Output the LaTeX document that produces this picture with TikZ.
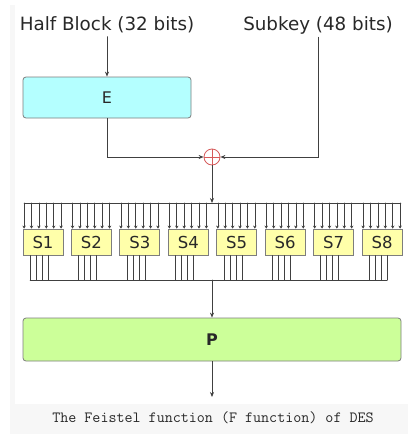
\documentclass[tikz,border=0pt]{standalone}
\usepackage{fontspec}
\setmainfont{DejaVu Sans}
\usetikzlibrary{arrows.meta,calc}
\definecolor{linegray}{RGB}{64,64,64}
\definecolor{textgray}{RGB}{40,40,40}
\definecolor{boxgray}{RGB}{125,125,125}
\definecolor{efill}{RGB}{180,255,255}
\definecolor{pfill}{RGB}{204,255,153}
\definecolor{sfill}{RGB}{255,255,170}
\definecolor{xorred}{RGB}{214,90,90}
\definecolor{bandgray}{RGB}{247,247,247}

\begin{document}
\begin{tikzpicture}[x=1pt,y=-1pt,line cap=round,text=textgray,
    wire/.style={linegray,line width=0.8pt},
    arr/.style={wire,-{Stealth[length=5pt,width=4pt]}},
    sarr/.style={wire,line width=0.6pt,-{Stealth[length=3pt,width=3.5pt]}},
    perm/.style={draw=boxgray,line width=0.8pt,rounded corners=3pt,font=\fontsize{16}{18}\selectfont},
    sbox/.style={draw=boxgray,line width=0.8pt,fill=sfill,minimum width=40pt,minimum height=26pt,
        inner sep=0pt,font=\fontsize{16.5}{18}\selectfont}]
    \useasboundingbox (0,0) rectangle (408,434);
    \fill[bandgray] (10,5) rectangle (408,434);
    \fill[white] (15,5) rectangle (408,404);
    % inputs
    \node[font=\fontsize{18.3}{20}\selectfont] (half) at (107,25) {Half Block (32 bits)};
    \node[font=\fontsize{18.3}{20}\selectfont] (subkey) at (318,25) {Subkey (48 bits)};
    \node[perm,fill=efill,minimum width=168pt,minimum height=41pt] (E) at (107,97.5) {E};
    \node[circle,draw=xorred,line width=0.8pt,minimum size=16pt,inner sep=0pt,
        path picture={\draw[xorred,line width=0.8pt] (path picture bounding box.north) -- (path picture bounding box.south)
            (path picture bounding box.west) -- (path picture bounding box.east);}] (xor) at (212,157) {};
    \draw[arr] (half) -- (E);
    \draw[arr] (E.south) |- (xor.west);
    \draw[arr] (subkey.south) |- (xor.east);
    % S-boxes
    \coordinate (bin) at (212,203);
    \coordinate (bout) at (212,280);
    \foreach \i in {1,...,8}
        \node[sbox] (s\i) at ({43+(\i-1)*48.43},242) {S\i};
    \draw[arr] (xor) -- (bin);
    \draw[wire,line width=0.6pt] ([xshift=1.5pt]s1.north west |- bin) -- ([xshift=-1.5pt]s8.north east |- bin);
    \draw[wire,line width=0.6pt] ([xshift=7.5pt]s1.south west |- bout) -- ([xshift=25.5pt]s8.south west |- bout);
    \foreach \i in {1,...,8} {
        \foreach \k in {0,...,5}
            \draw[sarr] ([xshift={(1.5+\k*7.4)*1pt}]s\i.north west |- bin) -- ([xshift={(1.5+\k*7.4)*1pt}]s\i.north west);
        \foreach \k in {0,...,3}
            \draw[wire,line width=0.6pt] ([xshift={(7.5+\k*6)*1pt}]s\i.south west) -- ([xshift={(7.5+\k*6)*1pt}]s\i.south west |- bout);
    }
    % output
    \node[perm,fill=pfill,minimum width=378pt,minimum height=43pt,font=\fontsize{16}{18}\selectfont\bfseries] (P) at (212,339.5) {P};
    \coordinate (out) at (212,397);
    \draw[arr] (bout) -- (P);
    \draw[arr] (P) -- (out);
    \node[font=\ttfamily\fontsize{15.6}{18}\selectfont] (caption) at (213,418) {The Feistel function (F function) of DES};
\end{tikzpicture}
\end{document}
